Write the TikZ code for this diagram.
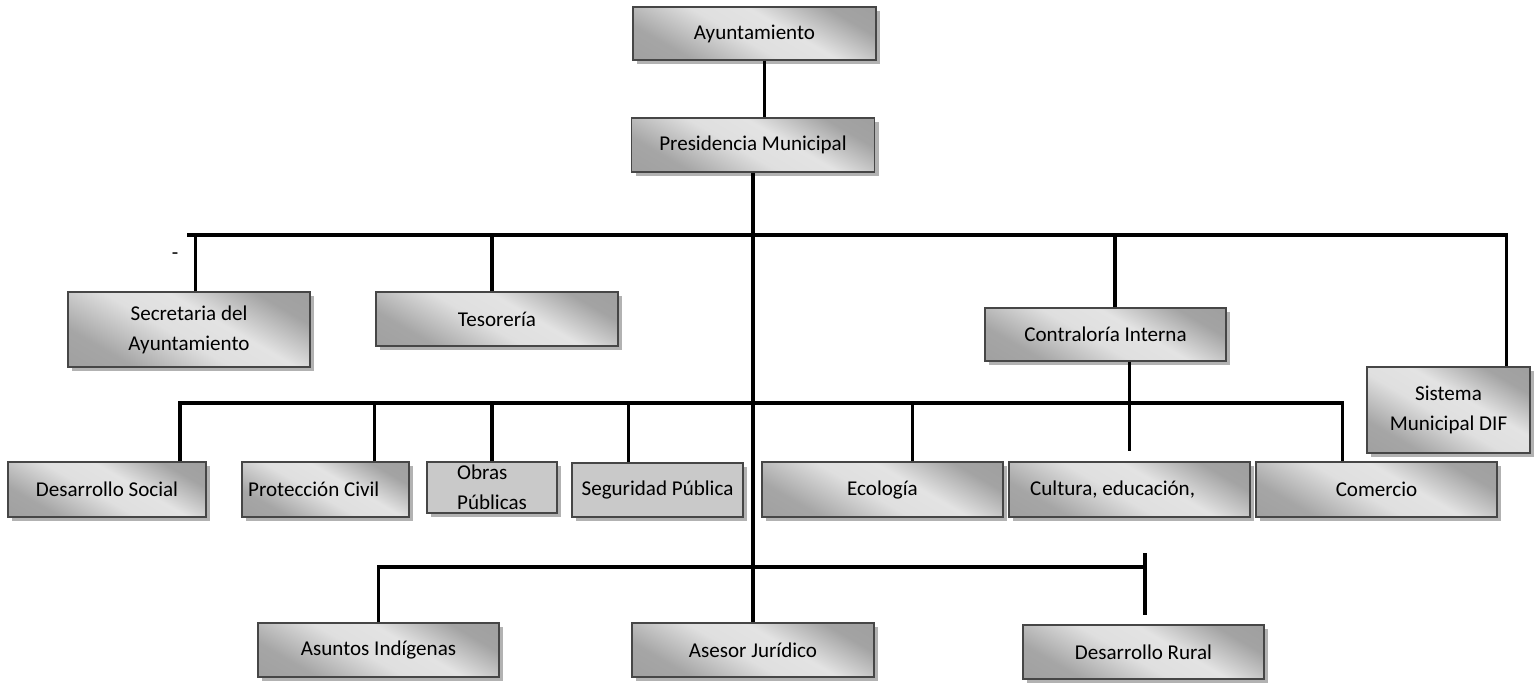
\documentclass[tikz,border=0pt]{standalone}
\usepackage{fontspec}
\setmainfont{Carlito}
\usetikzlibrary{shadows}
\pgfdeclarehorizontalshading{gris}{100bp}{color(0bp)=(gray!80); color(28bp)=(gray!70); color(46bp)=(gray!25); color(58bp)=(gray!22); color(74bp)=(gray!72); color(100bp)=(gray!80)}
\begin{document}
\begin{tikzpicture}[x=0.75pt, y=-0.75pt,
    font=\fontsize{15.8}{22.5}\selectfont,
    base/.style 2 args={draw=gray!55!black, line width=1.1pt,
        minimum width=#1*0.75pt, minimum height=#2*0.75pt, inner sep=0pt, align=center,
        drop shadow={shadow xshift=3pt, shadow yshift=-3pt, fill=gray!60, opacity=1}},
    caja/.style 2 args={base={#1}{#2}, shading=gris, shading angle=60},
    plana/.style 2 args={base={#1}{#2}, fill=gray!42},
    linea/.style={line width=2.5pt}]
    \useasboundingbox (0,0) rectangle (1540,682);

    % Top
    \node[caja={243}{53}] (ayun) at (754.5,33.5) {Ayuntamiento};
    \node[caja={243}{54}] (pres) at (753,145) {Presidencia Municipal};

    % First level
    \node[caja={242}{75}] (secre) at (189,329.5) {Secretaria del\\Ayuntamiento};
    \node[caja={242}{54}] (teso) at (497,319) {Tesorería};
    \node[caja={241}{53}] (contra) at (1105.5,334.5) {Contraloría Interna};
    \node[caja={163}{86}] (dif) at (1448.5,410) {Sistema\\Municipal DIF};
    \node at (175,256) (guion) {-};

    % Second level
    \node[caja={198}{55}] (dsoc) at (107,489.5) {Desarrollo Social};
    \node[caja={167}{55}] (pciv) at (325.5,489.5) {\makebox[116pt][l]{Protección Civil}};
    \node[plana={130}{51}, align=left] (obras) at (492,487.5) {Obras\\Públicas};
    \node[plana={171}{54}] (segur) at (657.5,490) {Seguridad Pública};
    \node[caja={241}{55}] (ecol) at (882.5,489.5) {Ecología};
    \node[caja={241}{55}] (cult) at (1129.5,489.5) {\makebox[149pt][l]{Cultura, educación,}};
    \node[caja={241}{55}] (comer) at (1376.5,489.5) {Comercio};

    % Third level
    \node[caja={241}{54}] (asun) at (378.5,650) {Asuntos Indígenas};
    \node[caja={242}{54}] (asesor) at (753,650) {Asesor Jurídico};
    \node[caja={241}{54}] (drural) at (1143.5,652) {Desarrollo Rural};

    % Bars
    \coordinate (b1L) at (187,235);
    \coordinate (b2) at (753,403);
    \coordinate (b3) at (753,567);
    \coordinate (t3a) at (1145,553);
    \coordinate (t3b) at (1145,615);

    % Connectors
    \draw[linea] ([xshift=7.5pt]ayun.south) -- ([xshift=7.5pt]ayun.south |- pres.north);
    \draw[linea] (pres.south) -- (asesor.north);
    \draw[linea] (b1L) -| ([xshift=43.5pt]dif.north);
    \draw[linea] ([xshift=5pt]secre.north) -- ([xshift=5pt]secre.north |- b1L);
    \draw[linea] ([xshift=-3.75pt]teso.north) -- ([xshift=-3.75pt]teso.north |- b1L);
    \draw[linea] ([xshift=7pt]contra.north) -- ([xshift=7pt]contra.north |- b1L);
    \draw[linea] (contra.south -| cult.north) -- ([yshift=7.5pt]cult.north);

    \draw[linea] ([xshift=54.75pt]dsoc.north) |- (b2);
    \draw[linea] ([xshift=-25.5pt]comer.north) |- (b2);
    \draw[linea] ([xshift=36.75pt]pciv.north) -- ([xshift=36.75pt]pciv.north |- b2);
    \draw[linea] (obras.north) -- (obras.north |- b2);
    \draw[linea] ([xshift=-21.75pt]segur.north) -- ([xshift=-21.75pt]segur.north |- b2);
    \draw[linea] ([xshift=22.5pt]ecol.north) -- ([xshift=22.5pt]ecol.north |- b2);

    \draw[linea] (asun.north) |- (t3a |- b3);
    \draw[linea] (t3a) -- (t3b);
\end{tikzpicture}
\end{document}
